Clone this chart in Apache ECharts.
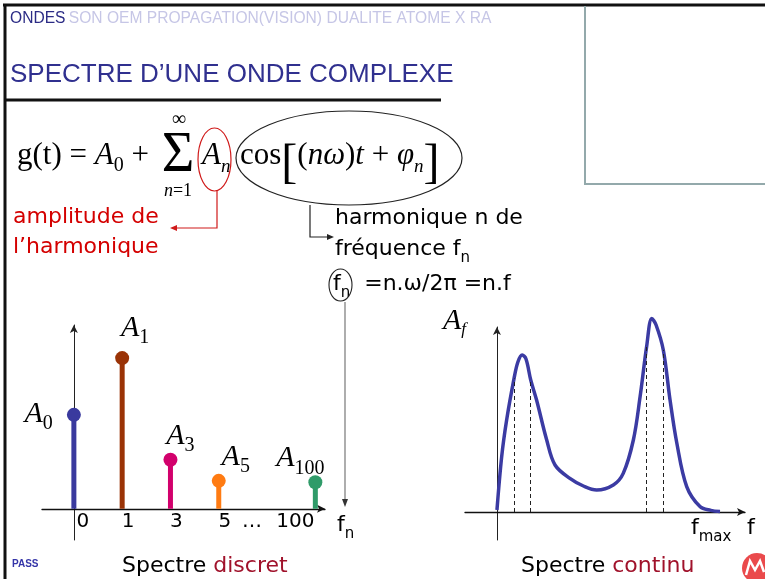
<!DOCTYPE html>
<html>
<head>
    <meta charset="UTF-8">
    <title>Spectre d'une onde complexe</title>
    <script src="https://cdn.jsdelivr.net/npm/echarts@6/dist/echarts.min.js"></script>
    <style>
        html, body { margin: 0; padding: 0; background: #fff; }
        #main { width: 765px; height: 579px; }
    </style>
</head>
<body>
<div id="main"></div>
<script>
    // spectre discret : harmoniques n, amplitudes A_n
    var harmLabels = ['0', '1', '3', '5', '…', '100'];
    var harmN = [0, 1, 3, 5, 100];
    var harmAmp = [5.11, 8.2, 2.67, 1.52, 1.44];
    var harmColors = ['#3a3a9e', '#9a3306', '#d2006c', '#ff7b12', '#2f9b69'];

    // spectre continu : A_f en fonction de f (fmax ~ 100)
    var contF = [0, 2.1, 4.3, 7.6, 9.3, 11.2, 12.9, 15, 17.6, 22.1, 25.8, 32.4, 38.4, 44.3, 51.7, 56.1,
        60.6, 63.6, 66.5, 68.8, 70.7, 73.9, 76.9, 79.9, 84.3, 90.2, 95, 99.1];
    var contA = [1, 27.7, 46, 66.8, 75, 78.5, 76.5, 66, 56, 36, 23.5, 16.8, 13, 11, 13.5, 19.3,
        36, 57.7, 82.7, 96.8, 93.5, 81, 56, 34.5, 12.7, 2.7, 0.8, 0.2];
    // pointillés sous les deux pics
    var dashF = [7.6, 15, 66.5, 73.9];
    var dashA = [66.8, 66, 82.7, 81];

    var serif = "'Liberation Serif', 'DejaVu Serif', serif";
    var sans = "'DejaVu Sans', 'Liberation Sans', sans-serif";
    var arial = "'Liberation Sans', Arial, sans-serif";

    var myChart = echarts.init(document.getElementById('main'));

    // styles pour A avec indice (graphic -> fill)
    var mathRich = {
        r: {fontFamily: serif, fontSize: 31, lineHeight: 36, verticalAlign: 'top', fill: '#000'},
        i: {fontFamily: serif, fontStyle: 'italic', fontSize: 31, lineHeight: 36, verticalAlign: 'top', fill: '#000'},
        s: {fontFamily: serif, fontStyle: 'italic', fontSize: 19, lineHeight: 20, padding: [17, 0, 0, 0], verticalAlign: 'top', fill: '#000'},
        d: {fontFamily: serif, fontSize: 20, lineHeight: 20, padding: [16, 0, 0, 0], verticalAlign: 'top', fill: '#000'},
        b: {fontFamily: serif, fontSize: 48, lineHeight: 32, verticalAlign: 'top', fill: '#000'}
    };
    var labRich = {
        a: {fontFamily: serif, fontStyle: 'italic', fontSize: 30, lineHeight: 32, verticalAlign: 'top', color: '#000'},
        s: {fontFamily: serif, fontSize: 20, lineHeight: 20, padding: [15, 0, 0, 0], verticalAlign: 'top', color: '#000'}
    };
    var sansRich = {
        r: {fontFamily: sans, fontSize: 22, lineHeight: 26, verticalAlign: 'top', fill: '#000'},
        s: {fontFamily: sans, fontSize: 15, lineHeight: 16, padding: [13, 0, 0, 0], verticalAlign: 'top', fill: '#000'}
    };

    // placement des étiquettes A_n
    var labelPlace = [
        {position: 'left', distance: 14, offset: [0, 0]},
        {position: 'top', distance: 6, offset: [13, 0]},
        {position: 'top', distance: 0, offset: [10, 0]},
        {position: 'top', distance: 0, offset: [17, 0]},
        {position: 'top', distance: 0, offset: [-15, 0]}
    ];

    var stemData = harmN.map(function (n, i) {
        return {value: [harmLabels.indexOf(String(n)), harmAmp[i]], itemStyle: {color: harmColors[i]}};
    });
    var dotData = harmN.map(function (n, i) {
        return {
            value: [harmLabels.indexOf(String(n)), harmAmp[i]],
            itemStyle: {color: harmColors[i], opacity: 1},
            label: Object.assign({show: true, formatter: '{a|A}{s|' + n + '}', rich: labRich}, labelPlace[i])
        };
    });
    var curve = contF.map(function (f, i) { return [f, contA[i]]; });
    var dashes = dashF.map(function (f, i) { return [{coord: [f, 0]}, {coord: [f, dashA[i]]}]; });

    function text(x, y, str, style) {
        return {
            type: 'text', x: x, y: y, z: 10,
            style: Object.assign({text: str, fill: '#000', verticalAlign: 'middle', align: 'left'}, style)
        };
    }
    function line(points, stroke, width) {
        return {type: 'polyline', z: 10, shape: {points: points}, style: {stroke: stroke, lineWidth: width, fill: null}};
    }
    function arrow(points, color) {
        return {type: 'polygon', z: 10, shape: {points: points}, style: {fill: color}};
    }
    var legendRich = {
        k: {fontFamily: sans, fontSize: 22, fill: '#000'},
        c: {fontFamily: sans, fontSize: 22, fill: '#a0122b'}
    };

    var graphics = [
        // cadre
        line([[3, 5], [765, 5]], '#111', 3),
        line([[5, 5], [5, 579]], '#111', 3),
        line([[4, 100], [441, 100]], '#111', 3),
        line([[585, 6], [585, 184], [765, 184]], '#93a9ab', 2),
        // en-tête
        text(10, 19, '{d|ONDES} {l|SON OEM PROPAGATION(VISION) DUALITE ATOME X RA}', {
            rich: {
                d: {fontFamily: arial, fontSize: 15.6, fill: '#2b2b85'},
                l: {fontFamily: arial, fontSize: 15.6, fill: '#c6c6e6'}
            }
        }),
        text(10, 75, 'SPECTRE D’UNE ONDE COMPLEXE', {fontFamily: arial, fontSize: 26, fill: '#30308f'}),
        // formule
        text(17, 158, '{r|g(t) = }{i|A}{d|0}{r| +}', {rich: mathRich}),
        text(178, 156, 'Σ', {fontFamily: serif, fontSize: 56, align: 'center'}),
        text(179, 120, '∞', {fontFamily: serif, fontSize: 20, align: 'center'}),
        text(178, 191, '{i|n}{r|=1}', {
            align: 'center',
            rich: {
                i: {fontFamily: serif, fontStyle: 'italic', fontSize: 18},
                r: {fontFamily: serif, fontSize: 18}
            }
        }),
        text(202, 158, '{i|A}{s|n}', {rich: mathRich}),
        text(240, 158, '{r|cos}{b|[}{r|(}{i|nω}{r|)}{i|t}{r| + }{i|φ}{s|n}{b|]}', {rich: mathRich}),
        {type: 'ellipse', z: 10, shape: {cx: 214.5, cy: 159.5, rx: 16.5, ry: 31.5}, style: {stroke: '#d01a1a', lineWidth: 1.2, fill: null}},
        {type: 'ellipse', z: 10, shape: {cx: 349, cy: 158, rx: 113, ry: 47}, style: {stroke: '#222', lineWidth: 1.2, fill: null}},
        // flèches d'annotation
        line([[217, 191], [217, 228], [176, 228]], '#d01a1a', 1.2),
        arrow([[170, 228], [177, 225], [177, 231]], '#d01a1a'),
        line([[310, 205], [310, 237], [329, 237]], '#222', 1.2),
        arrow([[334, 237], [327, 234], [327, 240]], '#222'),
        text(13, 217, 'amplitude de', {fontFamily: sans, fontSize: 22, fill: '#d40000'}),
        text(13, 247, 'l’harmonique', {fontFamily: sans, fontSize: 22, fill: '#d40000'}),
        text(335, 218, 'harmonique n de', {fontFamily: sans, fontSize: 22}),
        text(335, 251, '{r|fréquence f}{s|n}', {rich: sansRich}),
        text(333, 286, '{r|f}{s|n}{r|  =n.ω/2π =n.f}', {rich: sansRich}),
        {type: 'ellipse', z: 10, shape: {cx: 340.5, cy: 285, rx: 11.5, ry: 16}, style: {stroke: '#222', lineWidth: 1.1, fill: null}},
        line([[345, 302], [345, 501]], '#777', 1.2),
        arrow([[345, 507], [342, 499], [348, 499]], '#333'),
        // noms d'axes
        text(337, 527, '{r|f}{s|n}', {rich: sansRich}),
        text(443, 322, '{a|A}{s|f}', {
            rich: {
                a: {fontFamily: serif, fontStyle: 'italic', fontSize: 30, lineHeight: 32, verticalAlign: 'top', fill: '#000'},
                s: {fontFamily: serif, fontStyle: 'italic', fontSize: 17, lineHeight: 18, padding: [15, 0, 0, 0], verticalAlign: 'top', fill: '#000'}
            }
        }),
        text(691, 530, '{r|f}{s|max}', {rich: sansRich}),
        text(747, 528, 'f', {fontFamily: sans, fontSize: 22}),
        // légendes
        text(122, 566, '{k|Spectre }{c|discret}', {rich: legendRich}),
        text(521, 566, '{k|Spectre }{c|continu}', {rich: legendRich}),
        text(12, 564, 'PASS', {fontFamily: arial, fontSize: 10, fontWeight: 'bold', fill: '#3535a8'}),
        // logo
        {type: 'circle', z: 10, shape: {cx: 757, cy: 568, r: 15}, style: {fill: '#ea4a4c'}},
        line([[746, 575], [750, 561], [755, 570], [760, 561], [764, 572]], '#fff', 2.5)
    ];

    var axisBase = {
        splitLine: {show: false},
        axisTick: {show: false}
    };

    myChart.setOption({
        animation: false,
        backgroundColor: '#fff',
        graphic: graphics,
        grid: [
            {left: 42, right: 440, top: 325, bottom: 39},
            {left: 465, right: 20, top: 327, bottom: 39}
        ],
        xAxis: [
            Object.assign({
                gridIndex: 0, type: 'value', min: -0.66, max: 5.2,
                axisLine: {onZero: true, lineStyle: {color: '#111', width: 1.3}, symbol: ['none', 'arrow'], symbolSize: [6, 8]},
                axisLabel: {
                    customValues: [0, 1, 2, 3, 4, 5],
                    margin: -28,
                    fontFamily: sans, fontSize: 20, color: '#000',
                    formatter: function (v) {
                        var t = harmLabels[v];
                        if (v === 0) return '{z|' + t + '}';
                        if (t === '…') return '{d|' + t + '}';
                        if (t === '100') return '{h|' + t + '}';
                        return '{n|' + t + '}';
                    },
                    rich: {
                        z: {fontFamily: sans, fontSize: 20, padding: [0, 0, 0, 18]},
                        n: {fontFamily: sans, fontSize: 20, padding: [0, 0, 0, 12]},
                        d: {fontFamily: sans, fontSize: 20, padding: [0, 30, 0, 0]},
                        h: {fontFamily: sans, fontSize: 20, padding: [0, 40, 0, 0]}
                    }
                }
            }, axisBase),
            Object.assign({
                gridIndex: 1, type: 'value', min: -14.2, max: 110.2,
                axisLine: {onZero: true, lineStyle: {color: '#111', width: 1.3}, symbol: ['none', 'arrow'], symbolSize: [6, 8]},
                axisLabel: {show: false}
            }, axisBase)
        ],
        yAxis: [
            Object.assign({
                gridIndex: 0, type: 'value', min: -1.7, max: 10,
                axisLine: {show: true, onZero: true, lineStyle: {color: '#222', width: 1}, symbol: ['none', 'arrow'], symbolSize: [6, 8]},
                axisLabel: {show: false}
            }, axisBase),
            Object.assign({
                gridIndex: 1, type: 'value', min: -14, max: 92.5,
                axisLine: {show: true, onZero: true, lineStyle: {color: '#222', width: 1}, symbol: ['none', 'arrow'], symbolSize: [6, 8]},
                axisLabel: {show: false}
            }, axisBase)
        ],
        series: [
            {
                name: 'tiges', type: 'bar', xAxisIndex: 0, yAxisIndex: 0,
                barWidth: 5, data: stemData, z: 2
            },
            {
                name: 'amplitudes', type: 'scatter', xAxisIndex: 0, yAxisIndex: 0,
                symbolSize: 14, data: dotData, z: 3
            },
            {
                name: 'spectre continu', type: 'line', xAxisIndex: 1, yAxisIndex: 1,
                data: curve, smooth: 0.35, showSymbol: false, clip: false,
                lineStyle: {color: '#3b3ba3', width: 3.5},
                markLine: {
                    silent: true, symbol: 'none', label: {show: false},
                    lineStyle: {type: [4, 3], color: '#222', width: 1},
                    data: dashes
                },
                z: 3
            }
        ]
    });
</script>
</body>
</html>
